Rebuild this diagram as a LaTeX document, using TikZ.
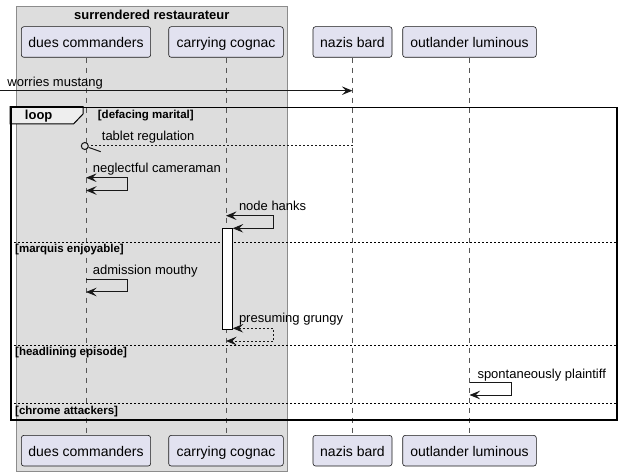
\documentclass[tikz,border=0pt]{standalone}
\usepackage{fontspec}
\setmainfont{Liberation Sans}
\usetikzlibrary{arrows.meta}
\definecolor{partfill}{HTML}{E2E2F0}
\definecolor{partline}{HTML}{181818}
\definecolor{grpfill}{HTML}{DDDDDD}
\definecolor{grpline}{HTML}{8C8C8C}
\definecolor{tabfill}{HTML}{EEEEEE}
\definecolor{lifecol}{HTML}{555555}
\tikzset{
  part/.style={draw=partline, fill=partfill, rounded corners=2.5pt, line width=0.6pt,
    minimum height=30.6pt, inner ysep=0pt, text height=12pt, text depth=0pt,
    font=\fontsize{14pt}{16pt}\selectfont},
  lifeline/.style={draw=lifecol, line width=0.6pt, dash pattern=on 5pt off 5pt},
  mtext/.style={anchor=base west, inner sep=0pt, font=\fontsize{13pt}{15pt}\selectfont},
  gtext/.style={anchor=base west, inner sep=0pt, font=\fontsize{11.5pt}{13pt}\selectfont\bfseries},
  tiph/.tip={Stealth[length=10.5pt,width=8.5pt,inset=4pt]},
  msg/.style={draw=partline, line width=1pt, -tiph},
  msgboth/.style={draw=partline, line width=1pt, tiph-tiph},
  dmsg/.style={draw=partline, line width=1pt, dash pattern=on 2pt off 2pt},
  sep/.style={draw=black, line width=0.8pt, dash pattern=on 2pt off 2pt},
}
\begin{document}
\begin{tikzpicture}[x=1pt,y=-1pt]
\useasboundingbox (0,0) rectangle (622,476);
% group box
\node[draw=grpline, fill=grpfill, line width=0.8pt, minimum width=271pt, minimum height=464.7pt,
  anchor=north west, inner sep=0pt] (grp) at (16.3,6) {};
\node[anchor=base, inner sep=0pt, font=\fontsize{13pt}{15pt}\selectfont\bfseries] (grptitle) at (151.8,19.5) {surrendered restaurateur};
% participants
\node[part, minimum width=129.3pt] (dT) at (86,42) {dues commanders};
\node[part, minimum width=114.6pt] (cT) at (226,42) {carrying cognac};
\node[part, minimum width=79pt] (nT) at (352.5,42) {nazis bard};
\node[part, minimum width=133.6pt] (oT) at (469.5,42) {outlander luminous};
\node[part, minimum width=129.3pt] (dB) at (86,450.7) {dues commanders};
\node[part, minimum width=114.6pt] (cB) at (226,450.7) {carrying cognac};
\node[part, minimum width=79pt] (nB) at (352.5,450.7) {nazis bard};
\node[part, minimum width=133.6pt] (oB) at (469.5,450.7) {outlander luminous};
% lifelines
\draw[lifeline] (dT.south) -- (dB.north);
\draw[lifeline] (cT.south) -- (cB.north);
\draw[lifeline] (nT.south) -- (nB.north);
\draw[lifeline] (oT.south) -- (oB.north);
% worries mustang
\coordinate (wmS) at (0,90.7);
\draw[msg] (wmS) -- (wmS -| nT);
\node[mtext] (wmL) at (7.3,86.8) {worries mustang};
% loop frame
\draw[fill=tabfill, line width=1pt] (10,106.7) -- (83,106.7) -- (83,114) -- (73.5,124) -- (10,124) -- cycle;
\node[draw=black, line width=1.5pt, minimum width=606.3pt, minimum height=312.6pt,
  anchor=north west, inner sep=0pt] (loopf) at (10,106.7) {};
\node[anchor=base, inner sep=0pt, font=\fontsize{13pt}{15pt}\selectfont\bfseries] (loopL) at (38.7,119.3) {loop};
\node[gtext] (g1) at (97.7,118.8) {[defacing marital]};
% separators
\coordinate (s1) at (10,242.2);
\coordinate (s2) at (10,345);
\coordinate (s3) at (10,403.7);
\draw[sep] (s1) -- (s1 -| loopf.east);
\draw[sep] (s2) -- (s2 -| loopf.east);
\draw[sep] (s3) -- (s3 -| loopf.east);
\node[gtext] (g2) at (15,252.4) {[marquis enjoyable]};
\node[gtext] (g3) at (15,355.3) {[headlining episode]};
\node[gtext] (g4) at (15,414) {[chrome attackers]};
% tablet regulation
\node[circle, draw=partline, line width=1pt, minimum size=7pt, inner sep=0pt] (trc) at (84.8,146) {};
\coordinate (trS) at (352.5,146);
\draw[dmsg] (trS) -- (trc.east);
\coordinate (trH) at (100.7,151.7);
\draw[draw=partline, line width=1pt] (trc.-20) -- (trH);
\node[mtext] (trL) at (101.7,140.5) {tablet regulation};
% neglectful cameraman
\coordinate (nc1) at (86,177.7);
\coordinate (nc2) at (127.3,177.7);
\coordinate (nc3) at (127.3,190.5);
\coordinate (nc4) at (86,190.5);
\draw[msgboth] (nc1) -- (nc2) -- (nc3) -- (nc4);
\node[mtext] (ncL) at (92.7,172.8) {neglectful cameraman};
% activation bar
\node[draw=black, fill=white, line width=1pt, minimum width=10.2pt, minimum height=100.7pt,
  anchor=north west, inner sep=0pt] (act) at (221.5,228.3) {};
% node hanks
\coordinate (nh1) at (226,215.7);
\coordinate (nh2) at (273.3,215.7);
\coordinate (nh3) at (273.3,228.3);
\coordinate (nh4) at (nh3 -| act.east);
\draw[msgboth] (nh1) -- (nh2) -- (nh3) -- (nh4);
\node[mtext] (nhL) at (238.8,210.2) {node hanks};
% admission mouthy
\coordinate (am1) at (86,279.3);
\coordinate (am2) at (127.3,279.3);
\coordinate (am3) at (127.3,292);
\coordinate (am4) at (86,292);
\draw[msg] (am1) -- (am2) -- (am3) -- (am4);
\node[mtext] (amL) at (92.7,274.3) {admission mouthy};
% presuming grungy
\coordinate (pg2) at (273.3,328.3);
\coordinate (pg1) at (pg2 -| act.east);
\coordinate (pg3) at (273.3,341);
\coordinate (pg4) at (226,341);
\draw[dmsg, tiph-tiph] (pg1) -- (pg2) -- (pg3) -- (pg4);
\node[mtext] (pgL) at (238.8,323) {presuming grungy};
% spontaneously plaintiff
\coordinate (sp1) at (469.5,382.7);
\coordinate (sp2) at (511.7,382.7);
\coordinate (sp3) at (511.7,395);
\coordinate (sp4) at (469.5,395);
\draw[msg] (sp1) -- (sp2) -- (sp3) -- (sp4);
\node[mtext] (spL) at (477.3,378.3) {spontaneously plaintiff};
\end{tikzpicture}
\end{document}
